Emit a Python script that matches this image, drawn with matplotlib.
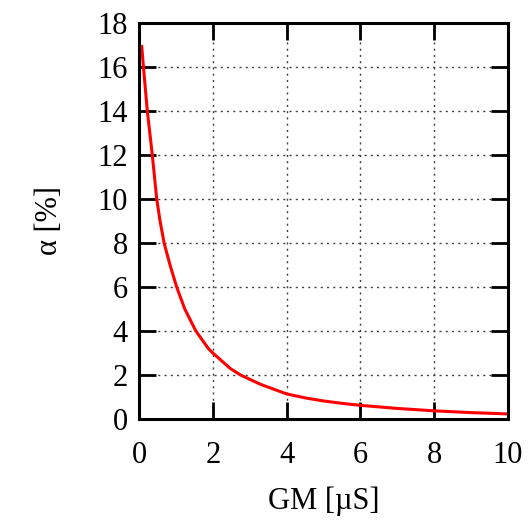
import matplotlib
matplotlib.use("Agg")
from matplotlib import pyplot as plt

# values
gm = [0.07, 0.12, 0.225, 0.36, 0.48, 0.57, 0.68, 0.84, 1.02, 1.24, 1.54, 1.88,
      2.0, 2.47, 2.75, 3.3, 4.0, 4.5, 5.0, 5.5, 6.0, 7.0, 8.0, 9.0, 10.0]
alpha = [17.0, 16.0, 14.0, 12.0, 10.0, 9.0, 8.0, 7.0, 6.0, 5.0, 4.0, 3.2,
         3.0, 2.3, 2.0, 1.57, 1.14, 0.96, 0.82, 0.71, 0.62, 0.48, 0.37, 0.29, 0.23]

x_ticks = [0, 2, 4, 6, 8, 10]
y_ticks = [0, 2, 4, 6, 8, 10, 12, 14, 16, 18]

plt.rcParams['font.family'] = ['Liberation Serif', 'DejaVu Serif']

fig = plt.figure(figsize=(5.31, 5.21), dpi=100)
ax = fig.add_axes([0.2618, 0.1958, 0.6949, 0.7601])

ax.plot(gm, alpha, color='#ff0000', lw=2.2, solid_capstyle='butt')

ax.set_xlim(0, 10)
ax.set_ylim(0, 18)
ax.set_xticks(x_ticks)
ax.set_yticks(y_ticks)

ax.grid(True, color='0.25', linestyle=(0, (1.5, 3)), linewidth=1.0)
ax.set_axisbelow(True)

for s in ax.spines.values():
    s.set_linewidth(2.2)

ax.tick_params(direction='in', length=12, width=2, labelsize=22,
               top=True, right=True)
ax.tick_params(axis='x', pad=16)
ax.tick_params(axis='y', pad=8)

ax.set_xlabel('GM [µS]', fontsize=22, labelpad=12)
ax.set_ylabel('α [%]', fontsize=22, labelpad=24)

fig.savefig('out.png', dpi=100)
